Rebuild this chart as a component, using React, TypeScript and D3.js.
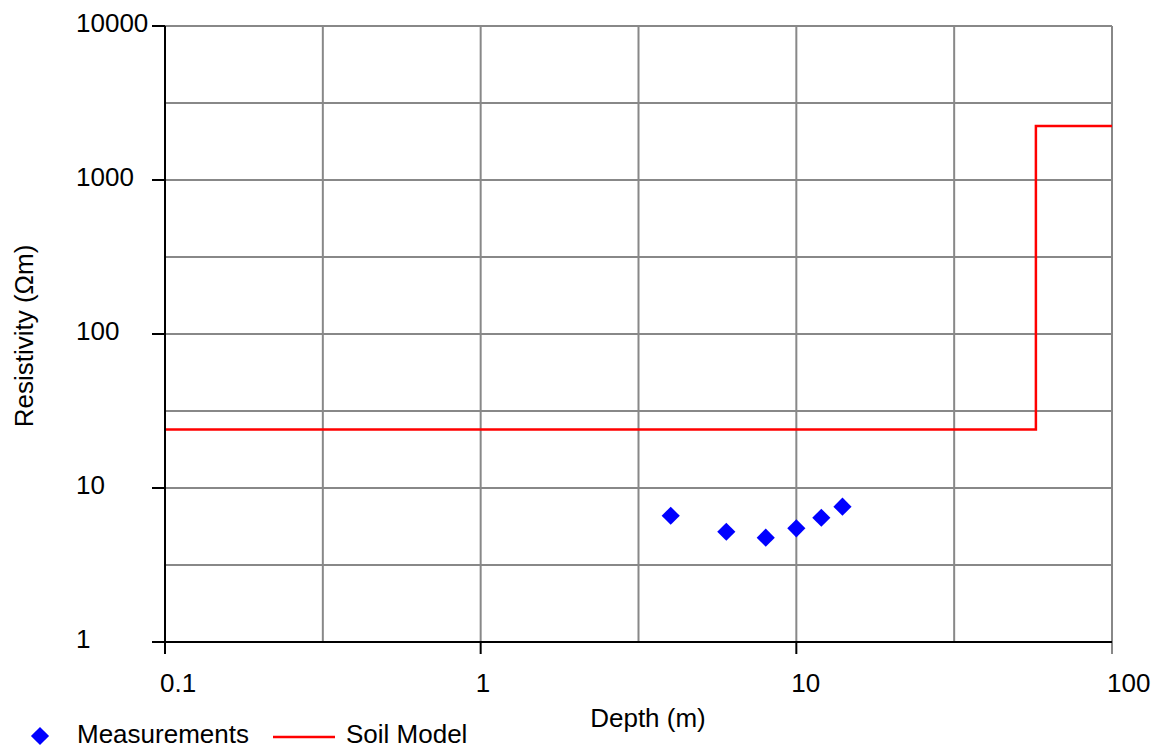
import React from 'react';
import * as d3 from 'd3';

// measured apparent resistivity
const measureDepth = [4, 6, 8, 10, 12, 14];
const measureRes = [6.6, 5.2, 4.76, 5.47, 6.41, 7.56];

// two-layer soil model (layer top depth, resistivity), ends at 100 m
const layerDepth = [0.1, 57.4, 100];
const layerRes = [24, 2240, 2240];

const xTicks = [0.1, 1, 10, 100];
const xTickLabels = ['0.1', '1', '10', '100'];
const yTicks = [1, 10, 100, 1000, 10000];
const yTickLabels = ['1', '10', '100', '1000', '10000'];
const xGrid = [0.1, Math.sqrt(0.1), 1, Math.sqrt(10), 10, Math.sqrt(1000), 100];
const yGrid = [Math.sqrt(10), 10, Math.sqrt(1000), 100, Math.sqrt(100000), 1000, Math.sqrt(10000000), 10000];

const W = 1152;
const H = 752;
const FONT = 'Liberation Sans, Arial, sans-serif';
const FS = 26;

const App = () => {
  const x = d3.scaleLog().domain([0.1, 100]).range([165, 1112]);
  const y = d3.scaleLog().domain([1, 10000]).range([642, 26]);

  const modelLine = d3.line<number>()
    .x((d, i) => x(layerDepth[i]))
    .y((d) => y(d))
    .curve(d3.curveStepAfter);

  const diamond = d3.symbol(d3.symbolSquare, 165)();

  return (
    <div style={{ position: 'fixed', left: 0, top: 0 }}>
      <svg width={W} height={H} style={{ display: 'block', background: '#fff' }} fontFamily={FONT}>
        {/* grid */}
        <g stroke="#888" strokeWidth={2}>
          {xGrid.map((v, i) => (
            <line key={'gx' + i} x1={x(v)} x2={x(v)} y1={y(10000)} y2={y(1)} />
          ))}
          {yGrid.map((v, i) => (
            <line key={'gy' + i} x1={x(0.1)} x2={x(100)} y1={y(v)} y2={y(v)} />
          ))}
          <line x1={x(100)} x2={x(100)} y1={y(1)} y2={y(1) + 12} />
        </g>

        {/* soil model */}
        <path d={modelLine(layerRes) || ''} fill="none" stroke="#ff0000" strokeWidth={2.5} />

        {/* measurements */}
        {measureDepth.map((d, i) => (
          <path
            key={'m' + i}
            d={diamond || ''}
            transform={`translate(${x(d)},${y(measureRes[i])}) rotate(45)`}
            fill="#0000ff"
          />
        ))}

        {/* axes */}
        <g stroke="#000" strokeWidth={2}>
          <line x1={x(0.1)} x2={x(0.1)} y1={y(10000)} y2={y(1) + 12} />
          <line x1={x(0.1) - 13} x2={x(100)} y1={y(1)} y2={y(1)} />
          {yTicks.map((v) => (
            <line key={'yt' + v} x1={x(0.1) - 13} x2={x(0.1)} y1={y(v)} y2={y(v)} />
          ))}
          {xTicks.slice(0, 3).map((v) => (
            <line key={'xt' + v} x1={x(v)} x2={x(v)} y1={y(1)} y2={y(1) + 12} />
          ))}
        </g>

        {/* tick labels */}
        <g fontSize={FS} fill="#000">
          {yTicks.map((v, i) => (
            <text key={'yl' + v} x={76} y={y(v) + 6}>{yTickLabels[i]}</text>
          ))}
          {xTicks.map((v, i) => (
            <text key={'xl' + v} x={x(v) - 5} y={692}>{xTickLabels[i]}</text>
          ))}
        </g>

        {/* axis titles */}
        <text x={648} y={727} fontSize={FS} textAnchor="middle">Depth (m)</text>
        <text transform="translate(33,336) rotate(-90)" fontSize={FS} textAnchor="middle">Resistivity (Ωm)</text>

        {/* legend */}
        <path d={diamond || ''} transform="translate(40,736) rotate(45)" fill="#0000ff" />
        <text x={77} y={743} fontSize={FS}>Measurements</text>
        <line x1={273} x2={335} y1={737} y2={737} stroke="#ff0000" strokeWidth={2.5} />
        <text x={346} y={743} fontSize={FS}>Soil Model</text>
      </svg>
    </div>
  );
};

export default App;
